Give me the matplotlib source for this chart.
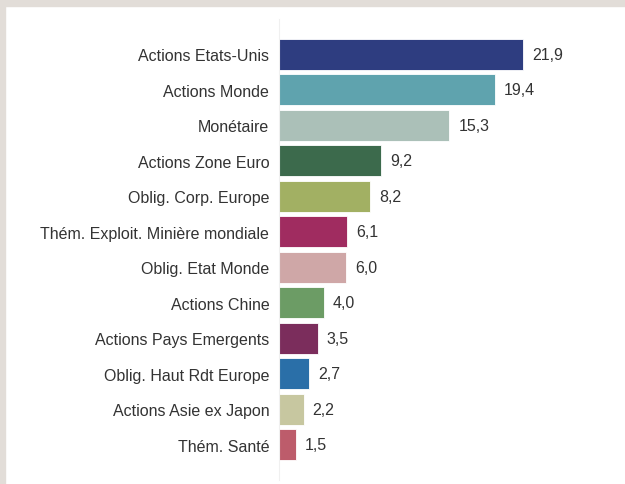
import matplotlib
matplotlib.use("Agg")
from matplotlib import pyplot as plt
from matplotlib.patches import Rectangle

categories = [
    "Actions Etats-Unis", "Actions Monde", "Monétaire", "Actions Zone Euro",
    "Oblig. Corp. Europe", "Thém. Exploit. Minière mondiale", "Oblig. Etat Monde",
    "Actions Chine", "Actions Pays Emergents", "Oblig. Haut Rdt Europe",
    "Actions Asie ex Japon", "Thém. Santé",
]
values = [21.9, 19.4, 15.3, 9.2, 8.2, 6.1, 6.0, 4.0, 3.5, 2.7, 2.2, 1.5]
labels = ["21,9", "19,4", "15,3", "9,2", "8,2", "6,1", "6,0", "4,0", "3,5", "2,7", "2,2", "1,5"]
colors = [
    "#2e3d80", "#5fa3ae", "#abc0b8", "#3c6a4c", "#a2b063", "#a02c60",
    "#cfa7a7", "#6c9c65", "#7b2d5c", "#2a6fa8", "#c7c7a0", "#bd5c6b",
]

plt.rcParams["font.family"] = ["Liberation Sans", "DejaVu Sans"]

fig = plt.figure(figsize=(6.25, 4.85), dpi=100)
fig.patch.set_facecolor("white")
# light frame at top and left
fig.patches.append(Rectangle((0, 1 - 7 / 485), 1, 7 / 485, transform=fig.transFigure,
                             color="#e2ddd8", zorder=0))
fig.patches.append(Rectangle((0, 0), 5 / 625, 1, transform=fig.transFigure,
                             color="#e2ddd8", zorder=0))

ax = fig.add_axes([279 / 625, 4 / 485, 278.5 / 625, 461 / 485])
ypos = list(range(len(categories)))
ax.barh(ypos, values, height=0.87, color=colors, edgecolor="#ffffff", linewidth=0.6)
ax.set_xlim(0, 25)
ax.set_ylim(12.0, -1.0)
ax.set_yticks(ypos)
ax.set_yticklabels(categories, fontsize=11.5, color="#333333")
ax.tick_params(axis="y", length=0, pad=7)
ax.set_xticks([])
for s in ["top", "right", "bottom"]:
    ax.spines[s].set_visible(False)
ax.spines["left"].set_color("#f0f0f0")
ax.spines["left"].set_linewidth(0.8)

for y, v, lab in zip(ypos, values, labels):
    ax.text(v + 0.8, y, lab, va="center", ha="left", fontsize=11.5, color="#333333")

fig.savefig("out.png", dpi=100)
